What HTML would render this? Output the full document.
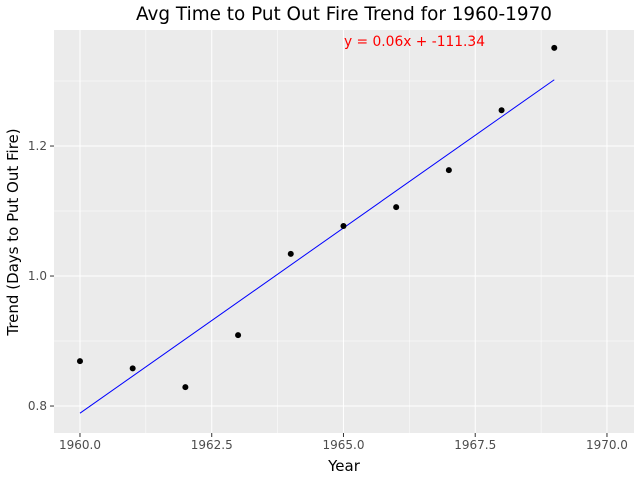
<!DOCTYPE html>
<html><head><meta charset="utf-8"><style>
body{margin:0;background:#fff;}
svg{display:block;font-family:"DejaVu Sans","Liberation Sans",sans-serif;}
</style></head><body>
<svg id="chart" width="640" height="480"></svg>
<script>
const years=[1960,1961,1962,1963,1964,1965,1966,1967,1968,1969];
const values=[0.869,0.858,0.829,0.909,1.034,1.077,1.106,1.163,1.255,1.351];
const fitYears=[1960,1969];
const fitValues=[0.789,1.302];
const xTicks=[1960,1962.5,1965,1967.5,1970];
const xTickLabels=["1960.0","1962.5","1965.0","1967.5","1970.0"];
const yTicks=[0.8,1.0,1.2];
const yTickLabels=["0.8","1.0","1.2"];
const L=54,R=634,T=30,B=433;
const xMin=1959.507,xMax=1970.513,yMin=0.7585,yMax=1.3785;
const X=v=>L+(v-xMin)/(xMax-xMin)*(R-L);
const Y=v=>B-(v-yMin)/(yMax-yMin)*(B-T);
const svg=document.getElementById('chart');
const NS='http://www.w3.org/2000/svg';
function mk(tag,attrs,parent){const e=document.createElementNS(NS,tag);for(const k in attrs)e.setAttribute(k,attrs[k]);(parent||svg).appendChild(e);return e;}
const panel=mk('rect',{x:L,y:T,width:R-L,height:B-T,fill:'#ebebeb'});


for(let i=0;i<xTicks.length-1;i++){const m=(xTicks[i]+xTicks[i+1])/2;mk('line',{x1:X(m),x2:X(m),y1:T,y2:B,stroke:'#fff','stroke-width':0.5});}
for(let i=0;i<yTicks.length-1;i++){const m=(yTicks[i]+yTicks[i+1])/2;mk('line',{x1:L,x2:R,y1:Y(m),y2:Y(m),stroke:'#fff','stroke-width':0.5});}
mk('line',{x1:L,x2:R,y1:Y(0.7),y2:Y(0.7),stroke:'#fff','stroke-width':0.5});
mk('line',{x1:L,x2:R,y1:Y(1.3),y2:Y(1.3),stroke:'#fff','stroke-width':0.5});
xTicks.forEach((t,i)=>{
 mk('line',{x1:X(t),x2:X(t),y1:T,y2:B,stroke:'#fff','stroke-width':1});
 mk('line',{x1:X(t),x2:X(t),y1:B,y2:B+4,stroke:'#333'});
 const tx=mk('text',{x:X(t),y:B+16,'text-anchor':'middle','font-size':12,fill:'#4d4d4d'});
 tx.textContent=xTickLabels[i];
 
 
});
yTicks.forEach((t,i)=>{
 mk('line',{x1:L,x2:R,y1:Y(t),y2:Y(t),stroke:'#fff','stroke-width':1});
 mk('line',{x1:L-4,x2:L,y1:Y(t),y2:Y(t),stroke:'#333'});
 const tx=mk('text',{x:L-7,y:Y(t)+4,'text-anchor':'end','font-size':12,fill:'#4d4d4d'});
 tx.textContent=yTickLabels[i];
 
 
});
const fit=mk('line',{x1:X(fitYears[0]),y1:Y(fitValues[0]),x2:X(fitYears[1]),y2:Y(fitValues[1]),stroke:'#0000ff','stroke-width':1});


years.forEach((yr,i)=>{
 const c=mk('circle',{cx:X(yr),cy:Y(values[i]),r:3,fill:'#000'});
 
 
});
</script>
<script>
(function(){
const svg=document.getElementById('chart');const NS='http://www.w3.org/2000/svg';
function t(x,y,s,a,txt,fill,rot){const e=document.createElementNS(NS,'text');e.setAttribute('x',x);e.setAttribute('y',y);e.setAttribute('font-size',s);e.setAttribute('text-anchor',a);e.setAttribute('fill',fill||'#000');if(rot)e.setAttribute('transform',rot);e.textContent=txt;svg.appendChild(e);return e;}
let e=t(344,20,18.4,'middle','Avg Time to Put Out Fire Trend for 1960-1970');


e=t(344,471,15,'middle','Year');


e=t(0,0,15,'middle','Trend (Days to Put Out Fire)','#000','translate(18,232) rotate(-90)');


e=t(344,46,13.8,'start','y = 0.06x + -111.34','#ff0000');


})();
</script>
</body></html>
